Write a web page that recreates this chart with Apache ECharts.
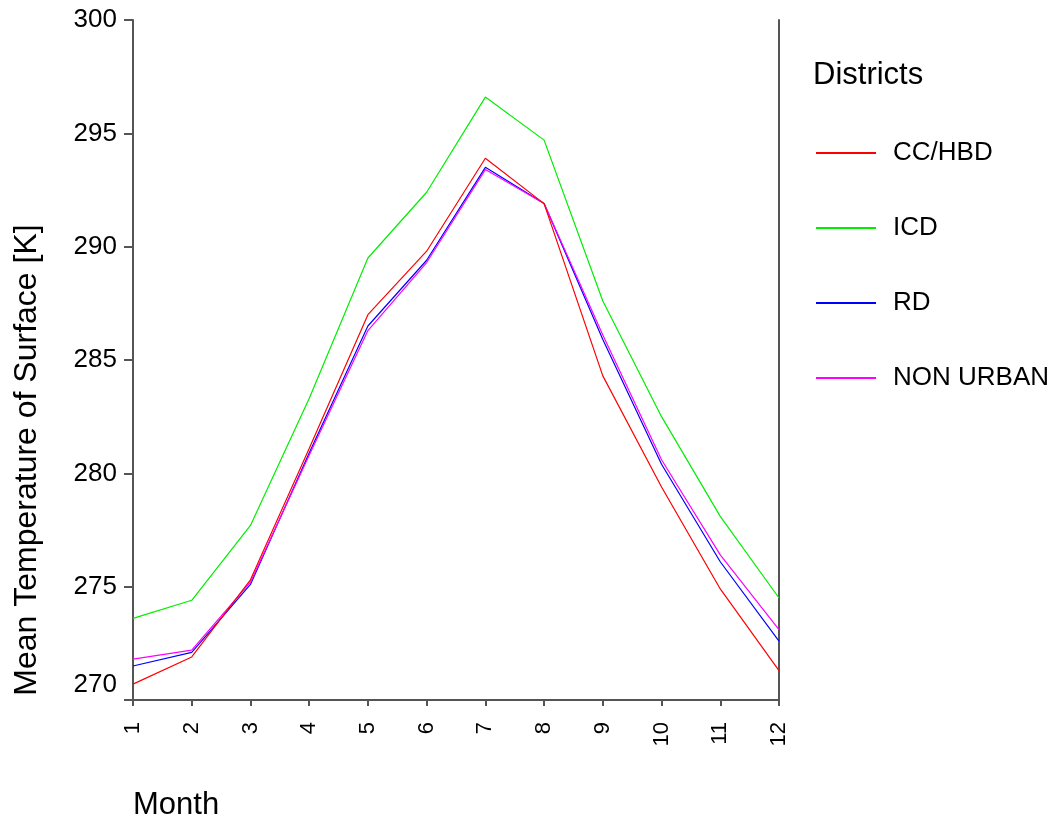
<!DOCTYPE html>
<html>
<head>
<meta charset="utf-8">
<script src="https://cdn.jsdelivr.net/npm/echarts@6/dist/echarts.min.js"></script>
<style>
  html, body { margin: 0; padding: 0; background: #fff; }
  #chart { width: 1050px; height: 822px; }
</style>
</head>
<body>
<div id="chart"></div>
<script>
// months on the x axis
const months = ['1', '2', '3', '4', '5', '6', '7', '8', '9', '10', '11', '12'];
// mean surface temperature per district [K]
const ccHbd    = [270.7, 271.9, 275.3, 281.1, 287.0, 289.8, 293.9, 291.9, 284.3, 279.4, 274.9, 271.3];
const icd      = [273.6, 274.4, 277.7, 283.3, 289.5, 292.4, 296.6, 294.7, 287.6, 282.5, 278.1, 274.5];
const rd       = [271.5, 272.1, 275.1, 280.9, 286.5, 289.4, 293.5, 291.9, 285.9, 280.4, 276.1, 272.6];
const nonUrban = [271.8, 272.2, 275.2, 280.8, 286.3, 289.3, 293.4, 291.9, 286.1, 280.6, 276.4, 273.1];
const seriesNames = ['CC/HBD', 'ICD', 'RD', 'NON URBAN'];
const seriesColors = ['#ff0000', '#00ee00', '#0000ff', '#ff00ff'];

const font = 'Liberation Sans, Arial, sans-serif';
const axisColor = '#555';

const chart = echarts.init(document.getElementById('chart'));

const series = [ccHbd, icd, rd, nonUrban].map(function (vals, i) {
    return {
        type: 'line',
        name: seriesNames[i],
        data: vals,
        symbol: 'none',
        lineStyle: { width: 1.2, color: seriesColors[i] },
        itemStyle: { color: seriesColors[i] },
        emphasis: { disabled: true },
        z: i === 0 ? 5 : 2
    };
});

chart.setOption({
    animation: false,
    backgroundColor: '#fff',
    title: [{
        text: 'Districts',
        left: 813, top: 60, padding: 0,
        textStyle: { fontFamily: font, fontSize: 31, fontWeight: 'normal', color: '#000' }
    }, {
        text: 'Month',
        left: 133, top: 790, padding: 0,
        textStyle: { fontFamily: font, fontSize: 31, fontWeight: 'normal', color: '#000' }
    }],
    legend: {
        orient: 'vertical',
        left: 815, top: 140, padding: 0,
        itemWidth: 60, itemHeight: 26, itemGap: 49,
        data: seriesNames,
        itemStyle: { opacity: 0 },   // hide the symbol, keep the line
        lineStyle: { width: 2 },
        textStyle: { fontFamily: font, fontSize: 26, color: '#000', padding: [0, 0, 0, 12] }
    },
    grid: { left: 133, right: 271, top: 20, bottom: 122 },
    xAxis: {
        type: 'category',
        data: months,
        boundaryGap: false,
        axisLine: { lineStyle: { color: axisColor, width: 2 } },
        axisTick: { inside: false, length: 6, lineStyle: { color: axisColor, width: 2 } },
        axisLabel: { rotate: 90, margin: 22, fontFamily: font, fontSize: 22, color: '#000' },
        splitLine: { show: false }
    },
    yAxis: [{
        type: 'value',
        min: 270, max: 300, interval: 5,
        name: 'Mean Temperature of Surface [K]',
        nameLocation: 'middle',
        nameGap: 90,
        nameTextStyle: { fontFamily: font, fontSize: 32, color: '#000', padding: [0, 200, 0, 0] },
        axisLine: { show: true, lineStyle: { color: axisColor, width: 2 } },
        axisTick: { show: true, length: 9, lineStyle: { color: axisColor, width: 2 } },
        axisLabel: {
            margin: 16, fontFamily: font, fontSize: 26, color: '#000',
            // lowest label sits a bit above its tick
            formatter: function (v) { return v === 270 ? '{low|270}' : String(v); },
            rich: { low: { fontFamily: font, fontSize: 26, color: '#000', padding: [0, 0, 30, 0] } }
        },
        splitLine: { show: false }
    }, {
        type: 'value',
        position: 'right',
        min: 270, max: 300, interval: 5,
        axisLine: { show: true, lineStyle: { color: axisColor, width: 2 } },
        axisTick: { show: false },
        axisLabel: { show: false },
        splitLine: { show: false }
    }],
    series: series
});
</script>
</body>
</html>
